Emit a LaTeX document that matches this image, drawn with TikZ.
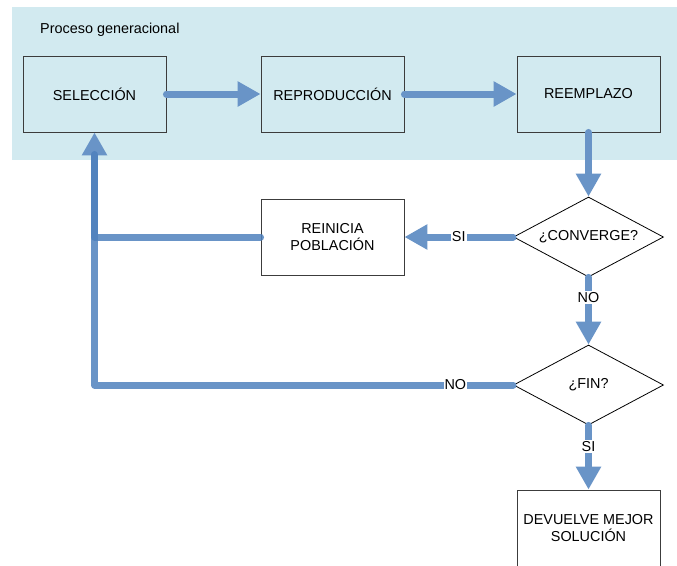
\documentclass[tikz,border=0pt]{standalone}
\usepackage{fontspec}
\setmainfont{Liberation Sans}
\usetikzlibrary{arrows.meta, shapes.geometric}
\definecolor{flowblue}{RGB}{79,129,189}
\definecolor{flowlight}{RGB}{105,148,199}
\definecolor{genbg}{RGB}{210,234,240}
\definecolor{boxline}{RGB}{60,60,60}
\tikzset{>={Triangle[width = 24pt, length = 23pt]}}
\tikzstyle{process} = [rectangle, text centered, align = center, minimum width = 143pt, minimum height = 76pt, draw = boxline, line width = 0.9pt]
\tikzstyle{decision} = [diamond, aspect = 1.875, text centered, minimum width = 150pt, minimum height = 80pt, inner sep = 0pt, draw = black, line width = 0.8pt]
\tikzstyle{flow} = [draw = flowlight, line width = 7pt, line cap = round, line join = round]
\tikzstyle{loopback} = [flow, draw = flowblue, opacity = 0.85]
\tikzstyle{answer} = [fill = white, inner sep = 1pt, opacity = 1, text opacity = 1]

\begin{document}
\begin{tikzpicture}[font = \fontsize{14.4pt}{17pt}\selectfont]
    \useasboundingbox (0pt,0pt) rectangle (677pt,-565pt);
    \fill [genbg] (12pt,-7pt) rectangle (677pt,-160pt);
    \node (title) at (40pt,-30pt) [anchor = west, inner sep = 0pt] {Proceso generacional};

    \node (seleccion) at (94.5pt,-94pt) [process] {SELECCIÓN};
    \node (reproduccion) [process, right of = seleccion, node distance = 238pt] {REPRODUCCIÓN};
    \node (reemplazo) [process, right of = reproduccion, node distance = 256pt] {REEMPLAZO};
    \node (converge) [decision, below of = reemplazo, node distance = 143pt] {¿CONVERGE?};
    \node (reinicia) [process, left of = converge, node distance = 256pt] {REINICIA\\POBLACIÓN};
    \node (fin) [decision, below of = converge, node distance = 148pt] {¿FIN?};
    \node (devuelve) [process, below of = fin, node distance = 143pt] {DEVUELVE MEJOR\\SOLUCIÓN};

    \draw [flow, ->] (seleccion) -- (reproduccion);
    \draw [flow, ->] (reproduccion) -- (reemplazo);
    \draw [flow, ->] (reemplazo) -- (converge);
    \draw [flow, ->] (converge) -- node [answer] {SI} (reinicia);
    \draw [flow, ->] (converge) -- node [answer, pos = 0.3] {NO} (fin);
    \draw [flow, ->] (fin) -- node [answer, pos = 0.33] {SI} (devuelve);
    \draw [flow, ->] (fin) -| node [answer, pos = 0.069] {NO} (seleccion);
    \draw [loopback, shorten > = 22pt] (reinicia) -| (seleccion);
\end{tikzpicture}
\end{document}
